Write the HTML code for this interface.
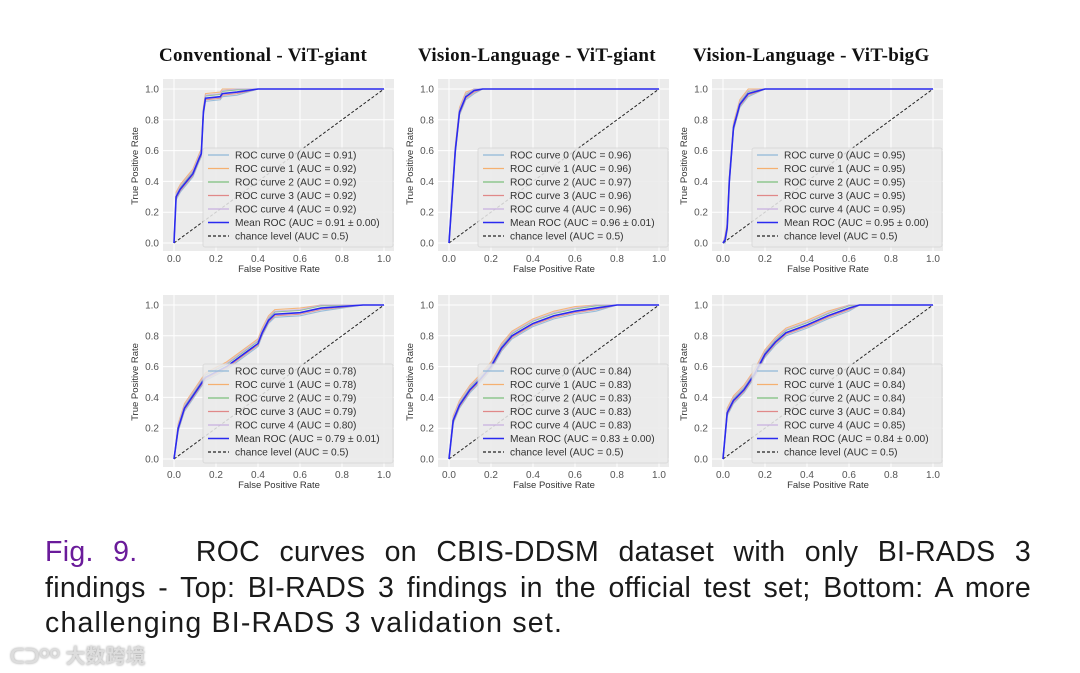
<!DOCTYPE html>
<html><head><meta charset="utf-8">
<style>
body{margin:0;background:#fff;width:1080px;height:673px;overflow:hidden;position:relative;font-family:"Liberation Sans",sans-serif}
.title{position:absolute;top:45px;font-family:"Liberation Serif",serif;font-weight:bold;font-size:19px;letter-spacing:0.3px;color:#111;white-space:nowrap}
.cap{position:absolute;left:45px;width:986px;font-size:28.5px;letter-spacing:1.2px;color:#1a1a1a;line-height:35.5px;top:535px}
.cap .l{text-align:justify;text-align-last:justify;height:35.5px;letter-spacing:0.3px}
.wm{position:absolute;left:10px;top:640px;font-family:"Liberation Sans","Noto Sans CJK SC",sans-serif;font-size:20px;color:#ddd;font-weight:bold;text-shadow:0 0 2px #999}
</style></head><body>
<div class="title" style="left:159px">Conventional - ViT-giant</div>
<div class="title" style="left:418px">Vision-Language - ViT-giant</div>
<div class="title" style="left:693px">Vision-Language - ViT-bigG</div>
<svg id="chart" width="1080" height="520" style="position:absolute;left:0;top:0"></svg>
<div class="cap">
<div class="l"><span style="color:#6a1b9a">Fig. 9.</span>&nbsp;&nbsp; ROC curves on CBIS-DDSM dataset with only BI-RADS 3</div>
<div class="l">findings - Top: BI-RADS 3 findings in the official test set; Bottom: A more</div>
<div>challenging BI-RADS 3 validation set.</div>
</div>
<div class="wm">ᑕᑐᴼᴼ 大数跨境</div>
<script>
const ticks=[0,0.2,0.4,0.6,0.8,1.0];
const tickLabels=["0.0","0.2","0.4","0.6","0.8","1.0"];
const curveColors=["#8fb8d8","#f5b070","#7cc07c","#e08888","#c8b0e0"];
const curveShift=[-0.02,0.03,0.015,-0.01,0.02];
const meanCurves=[
 [[0,0],[0.01,0.3],[0.03,0.35],[0.06,0.4],[0.09,0.45],[0.12,0.55],[0.13,0.58],[0.14,0.85],[0.15,0.94],[0.22,0.95],[0.23,0.97],[0.3,0.98],[0.4,1],[1,1]],
 [[0,0],[0.01,0.2],[0.03,0.6],[0.05,0.85],[0.08,0.95],[0.12,0.99],[0.16,1],[1,1]],
 [[0,0],[0.01,0.02],[0.02,0.1],[0.03,0.4],[0.05,0.75],[0.08,0.9],[0.12,0.97],[0.2,1],[1,1]],
 [[0,0],[0.02,0.2],[0.05,0.33],[0.1,0.43],[0.15,0.53],[0.25,0.6],[0.35,0.7],[0.4,0.75],[0.42,0.82],[0.45,0.9],[0.48,0.94],[0.6,0.95],[0.7,0.98],[0.9,1],[1,1]],
 [[0,0],[0.02,0.25],[0.05,0.35],[0.1,0.45],[0.15,0.52],[0.2,0.6],[0.25,0.72],[0.3,0.8],[0.4,0.88],[0.5,0.93],[0.6,0.96],[0.7,0.98],[0.8,1],[1,1]],
 [[0,0],[0.02,0.3],[0.05,0.38],[0.1,0.45],[0.15,0.55],[0.2,0.68],[0.25,0.76],[0.3,0.82],[0.4,0.87],[0.5,0.93],[0.6,0.98],[0.65,1],[1,1]]
];
const aucs=[
 ["0.91","0.92","0.92","0.92","0.92","0.91 ± 0.00"],
 ["0.96","0.96","0.97","0.96","0.96","0.96 ± 0.01"],
 ["0.95","0.95","0.95","0.95","0.95","0.95 ± 0.00"],
 ["0.78","0.78","0.79","0.79","0.80","0.79 ± 0.01"],
 ["0.84","0.83","0.83","0.83","0.83","0.83 ± 0.00"],
 ["0.84","0.84","0.84","0.84","0.85","0.84 ± 0.00"]
];
const svg=document.getElementById('chart');
const NS="http://www.w3.org/2000/svg";
function mk(tag,attrs,parent){const e=document.createElementNS(NS,tag);for(const k in attrs)e.setAttribute(k,attrs[k]);(parent||svg).appendChild(e);return e;}
meanCurves.forEach((mc,p)=>{
 const ox=174+[0,275,549][p%3], oy=243+(p>=3?216:0);
 const W=210,H=154;
 const sx=v=>ox+v*W, sy=v=>oy-v*H;
 const g=mk('g',{});
 
 
 const bg=mk('rect',{x:ox-11,y:oy-H-10,width:W+21,height:H+18,fill:'#ebebeb'},g);
 
 
 ticks.forEach((t,i)=>{
  mk('line',{x1:sx(t),x2:sx(t),y1:oy-H-10,y2:oy+8,stroke:'#fff','stroke-width':1},g);
  mk('line',{x1:ox-11,x2:ox+W+10,y1:sy(t),y2:sy(t),stroke:'#fff','stroke-width':1},g);
  const xl=mk('text',{x:sx(t),y:oy+19,'font-size':10,fill:'#555','text-anchor':'middle'},g);xl.textContent=tickLabels[i];
  
  
  const yl=mk('text',{x:ox-15,y:sy(t)+3.5,'font-size':10,fill:'#555','text-anchor':'end'},g);yl.textContent=tickLabels[i];
  
  
 });
 const xt=mk('text',{x:ox+W/2,y:oy+29,'font-size':9.5,fill:'#333','text-anchor':'middle'},g);xt.textContent='False Positive Rate';
 
 
 const yt=mk('text',{x:0,y:0,'font-size':9.5,fill:'#333','text-anchor':'middle',transform:`translate(${ox-36},${oy-H/2}) rotate(-90)`},g);yt.textContent='True Positive Rate';
 
 
 curveShift.forEach((d,ci)=>{
  const pts=mc.map(([x,y])=>{let yy=(y>0&&y<1)?Math.min(1,Math.max(0,y+d)):y;return sx(x)+','+sy(yy);}).join(' ');
  const pl=mk('polyline',{points:pts,fill:'none',stroke:curveColors[ci],'stroke-width':1.1,opacity:0.9},g);
  
  
 });
 const ch=mk('line',{x1:sx(0),y1:sy(0),x2:sx(1),y2:sy(1),stroke:'#222','stroke-width':1,'stroke-dasharray':'3,2'},g);
 
 
 const mean=mk('polyline',{points:mc.map(([x,y])=>sx(x)+','+sy(y)).join(' '),fill:'none',stroke:'#2a2af0','stroke-width':1.6},g);
 
 
 const lg=mk('g',{},g);
 
 
 mk('rect',{x:ox+29,y:oy-95,width:190,height:99,fill:'#ebebeb',opacity:0.85,stroke:'#d8d8d8',rx:2},lg);
 const labels=aucs[p].map((a,i)=>i<5?`ROC curve ${i} (AUC = ${a})`:`Mean ROC (AUC = ${a})`).concat(['chance level (AUC = 0.5)']);
 labels.forEach((l,i)=>{
  const yy=oy-88+i*13.5;
  const col=i<5?curveColors[i]:(i==5?'#2a2af0':'#222');
  mk('line',{x1:ox+34,x2:ox+55,y1:yy,y2:yy,stroke:col,'stroke-width':i==5?1.6:1.2,'stroke-dasharray':i==6?'3,2':'none'},lg);
  const t=mk('text',{x:ox+61,y:yy+3.5,'font-size':10.2,fill:'#333'},lg);t.textContent=l;
  
  
 });
});
</script>
</body></html>
